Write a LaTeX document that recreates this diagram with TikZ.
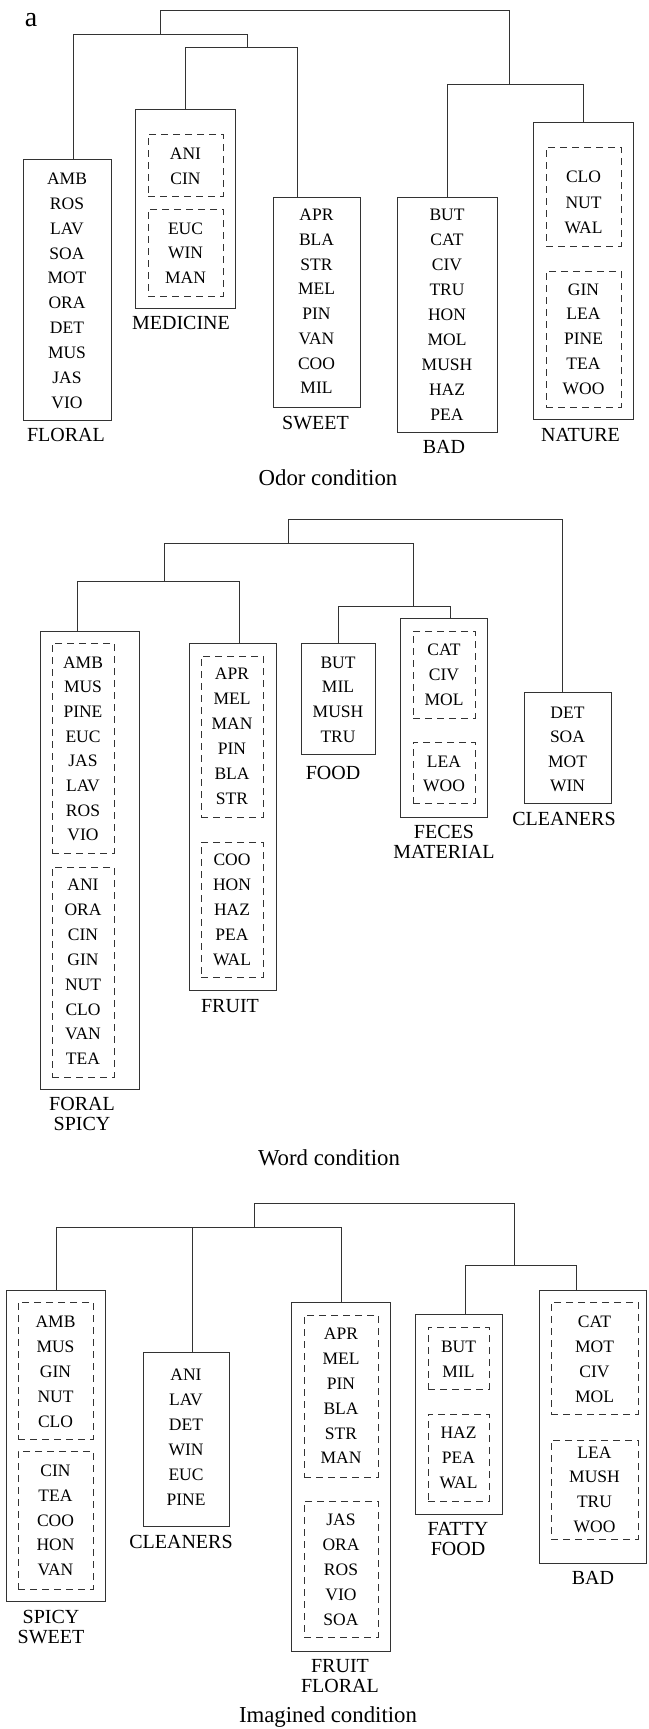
\documentclass[tikz,border=0pt]{standalone}
\usepackage{fontspec}
\setmainfont{Liberation Serif}
\usetikzlibrary{fit}

\colorlet{ink}{black!80}

% one column of odor codes: name, x, first baseline, line step, words
\newcommand{\codestack}[5]{%
  \foreach \w [count=\i from 0] in {#5}
    \node[code] (#1-\i) at (#2,#3+#4*\i) {\w};}

\begin{document}
\begin{tikzpicture}[x=1pt, y=-1pt,
    box/.style={draw=ink, line width=1pt, inner sep=0pt},
    grp/.style={draw=ink, line width=1pt, dash pattern=on 7pt off 5pt, inner sep=0pt},
    code/.style={font=\fontsize{17.5}{20}\selectfont, anchor=base, inner sep=0pt},
    lbl/.style={font=\fontsize{20}{20}\selectfont, anchor=north, inner sep=0pt, align=center},
    condcap/.style={font=\fontsize{22.8}{24}\selectfont, anchor=base, inner sep=0pt},
    link/.style={draw=ink, line width=1pt},
]
\useasboundingbox (0,0) rectangle (648,1729);

\node[font=\fontsize{28}{30}\selectfont, anchor=base, inner sep=0pt] (panel) at (31,26) {a};

% Odor condition
\node[box, fit={(23,159) (111,420)}] (floral) {};
\codestack{floral}{67}{184.3}{24.9}{AMB,ROS,LAV,SOA,MOT,ORA,DET,MUS,JAS,VIO}
\node[lbl] (floral-lbl) at (66,428.4) {FLORAL};

\node[box, fit={(135,109) (235,308)}] (medicine) {};
\node[grp, fit={(148,134) (223,196)}] (medicine-a) {};
\node[grp, fit={(148,209) (223,296)}] (medicine-b) {};
\codestack{med-a}{185.5}{159.1}{25}{ANI,CIN}
\codestack{med-b}{185.5}{234.1}{24.6}{EUC,WIN,MAN}
\node[lbl] (medicine-lbl) at (181,316.4) {MEDICINE};

\node[box, fit={(273,197) (360,407)}] (sweet) {};
\codestack{sweet}{316.5}{220.8}{24.7}{APR,BLA,STR,MEL,PIN,VAN,COO,MIL}
\node[lbl] (sweet-lbl) at (315.5,416.4) {SWEET};

\node[box, fit={(397,197) (497,432)}] (bad) {};
\codestack{bad}{447}{220.8}{24.9}{BUT,CAT,CIV,TRU,HON,MOL,MUSH,HAZ,PEA}
\node[lbl] (bad-lbl) at (444,440.4) {BAD};

\node[box, fit={(533,122) (633,419)}] (nature) {};
\node[grp, fit={(546,147) (621,246)}] (nature-a) {};
\node[grp, fit={(546,271) (621,407)}] (nature-b) {};
\codestack{nat-a}{583.5}{182.5}{25.5}{CLO,NUT,WAL}
\codestack{nat-b}{583.5}{295.1}{24.75}{GIN,LEA,PINE,TEA,WOO}
\node[lbl] (nature-lbl) at (580.5,428.4) {NATURE};

\coordinate (oa1) at (160,10);  \coordinate (oa2) at (509,10);
\coordinate (ob1) at (73,34);   \coordinate (ob2) at (247,34);
\coordinate (oc1) at (185,47);  \coordinate (oc2) at (297,47);
\coordinate (od1) at (447,84);  \coordinate (od2) at (583,84);
\draw[link] (floral.north -| ob1) |- (ob2) -- (ob2 |- oc1);
\draw[link] (medicine.north -| oc1) |- (oc2) -- (sweet.north -| oc2);
\draw[link] (bad.north -| od1) |- (od2) -- (nature.north -| od2);
\draw[link] (oa1 |- ob1) |- (oa2) -- (oa2 |- od1);

\node[condcap] (odor-cap) at (328,485) {Odor condition};

% Word condition
\node[box, fit={(40,631) (139,1089)}] (foralspicy) {};
\node[grp, fit={(52,643) (114,853)}] (foralspicy-a) {};
\node[grp, fit={(52,867) (114,1077)}] (foralspicy-b) {};
\codestack{fs-a}{83}{668.1}{24.67}{AMB,MUS,PINE,EUC,JAS,LAV,ROS,VIO}
\codestack{fs-b}{83}{890.8}{24.86}{ANI,ORA,CIN,GIN,NUT,CLO,VAN,TEA}
\node[lbl] (foralspicy-lbl) at (82,1097.4) {FORAL\\SPICY};

\node[box, fit={(189,643) (276,990)}] (fruit) {};
\node[grp, fit={(201,656) (263,817)}] (fruit-a) {};
\node[grp, fit={(201,842) (263,977)}] (fruit-b) {};
\codestack{fr-a}{232}{679.8}{24.87}{APR,MEL,MAN,PIN,BLA,STR}
\codestack{fr-b}{232}{865.8}{24.8}{COO,HON,HAZ,PEA,WAL}
\node[lbl] (fruit-lbl) at (230,999.4) {FRUIT};

\node[box, fit={(301,643) (375,754)}] (food) {};
\codestack{food}{338}{668.1}{24.8}{BUT,MIL,MUSH,TRU}
\node[lbl] (food-lbl) at (333,766.4) {FOOD};

\node[box, fit={(400,618) (487,817)}] (feces) {};
\node[grp, fit={(413,631) (475,718)}] (feces-a) {};
\node[grp, fit={(413,742) (475,803)}] (feces-b) {};
\codestack{fe-a}{444}{655.8}{24.67}{CAT,CIV,MOL}
\codestack{fe-b}{444}{767.5}{24.4}{LEA,WOO}
\node[lbl] (feces-lbl) at (444,825.4) {FECES\\MATERIAL};

\node[box, fit={(524,692) (611,803)}] (wcleaners) {};
\codestack{wcl}{567.5}{718.1}{24.6}{DET,SOA,MOT,WIN}
\node[lbl] (wcleaners-lbl) at (564,812.4) {CLEANERS};

\coordinate (wa1) at (288,519); \coordinate (wa2) at (562,519);
\coordinate (wb1) at (164,543); \coordinate (wb2) at (413,543);
\coordinate (wc1) at (77,581);  \coordinate (wc2) at (239,581);
\coordinate (wd1) at (338,606); \coordinate (wd2) at (450,606);
\draw[link] (foralspicy.north -| wc1) |- (wc2) -- (fruit.north -| wc2);
\draw[link] (food.north -| wd1) |- (wd2) -- (feces.north -| wd2);
\draw[link] (wb1 |- wc1) |- (wb2) -- (wb2 |- wd1);
\draw[link] (wa1 |- wb1) |- (wa2) -- (wcleaners.north -| wa2);

\node[condcap] (word-cap) at (329,1165) {Word condition};

% Imagined condition
\node[box, fit={(6,1290) (105,1601)}] (spicysweet) {};
\node[grp, fit={(18,1302) (93,1439)}] (spicysweet-a) {};
\node[grp, fit={(18,1451) (93,1589)}] (spicysweet-b) {};
\codestack{ss-a}{55.5}{1327.1}{25}{AMB,MUS,GIN,NUT,CLO}
\codestack{ss-b}{55.5}{1476.5}{24.75}{CIN,TEA,COO,HON,VAN}
\node[lbl] (spicysweet-lbl) at (51,1610.4) {SPICY\\SWEET};

\node[box, fit={(143,1352) (229,1526)}] (icleaners) {};
\codestack{icl}{186}{1380.5}{24.9}{ANI,LAV,DET,WIN,EUC,PINE}
\node[lbl] (icleaners-lbl) at (181,1535.4) {CLEANERS};

\node[box, fit={(291,1302) (390,1651)}] (fruitfloral) {};
\node[grp, fit={(304,1315) (378,1477)}] (fruitfloral-a) {};
\node[grp, fit={(304,1501) (378,1637)}] (fruitfloral-b) {};
\codestack{ff-a}{341}{1339.8}{24.8}{APR,MEL,PIN,BLA,STR,MAN}
\codestack{ff-b}{341}{1525.5}{25.1}{JAS,ORA,ROS,VIO,SOA}
\node[lbl] (fruitfloral-lbl) at (340,1659.4) {FRUIT\\FLORAL};

\node[box, fit={(415,1314) (502,1514)}] (fatty) {};
\node[grp, fit={(428,1327) (489,1389)}] (fatty-a) {};
\node[grp, fit={(428,1414) (489,1501)}] (fatty-b) {};
\codestack{fa-a}{458.5}{1352.1}{25}{BUT,MIL}
\codestack{fa-b}{458.5}{1438.1}{25.3}{HAZ,PEA,WAL}
\node[lbl] (fatty-lbl) at (458,1522.4) {FATTY\\FOOD};

\node[box, fit={(539,1290) (646,1563)}] (ibad) {};
\node[grp, fit={(551,1302) (638,1414)}] (ibad-a) {};
\node[grp, fit={(551,1440) (638,1539)}] (ibad-b) {};
\codestack{ib-a}{594.5}{1327.1}{25}{CAT,MOT,CIV,MOL}
\codestack{ib-b}{594.5}{1458.1}{24.8}{LEA,MUSH,TRU,WOO}
\node[lbl] (ibad-lbl) at (593,1571.4) {BAD};

\coordinate (ia1) at (254,1203); \coordinate (ia2) at (514,1203);
\coordinate (ib1) at (56,1227);  \coordinate (ib2) at (341,1227);
\coordinate (ibm) at (192,1227);
\coordinate (ic1) at (465,1265); \coordinate (ic2) at (576,1265);
\draw[link] (spicysweet.north -| ib1) |- (ib2) -- (fruitfloral.north -| ib2);
\draw[link] (ibm) -- (icleaners.north -| ibm);
\draw[link] (fatty.north -| ic1) |- (ic2) -- (ibad.north -| ic2);
\draw[link] (ia1 |- ib1) |- (ia2) -- (ia2 |- ic1);

\node[condcap] (imagined-cap) at (328,1722) {Imagined condition};

\end{tikzpicture}
\end{document}
